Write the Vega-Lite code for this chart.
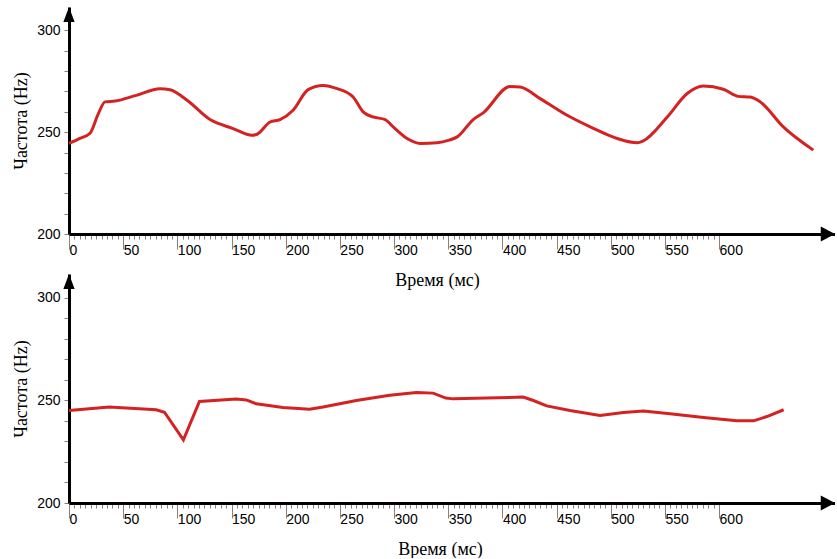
{
  "$schema": "https://vega.github.io/schema/vega-lite/v6.json",
  "padding": {"left": 12, "top": 7, "right": 0, "bottom": 0},
  "spacing": 40,
  "bounds": "flush",
  "config": {
    "view": {"stroke": null},
    "axis": {
      "grid": false,
      "domainColor": "#000000",
      "domainWidth": 3,
      "tickColor": "#8f7f76",
      "tickWidth": 1,
      "labelFont": "Liberation Sans",
      "labelFontSize": 14,
      "labelColor": "#000000",
      "titleFont": "Liberation Serif",
      "titleFontSize": 18,
      "titleFontWeight": "normal",
      "titleColor": "#000000",
      "labelOverlap": false,
      "labelFlush": false
    }
  },
  "datasets": {
    "top": [
      {"t":0,"f":244.5},{"t":10,"f":247},{"t":19.4,"f":249.5},{"t":27,"f":259},{"t":33.2,"f":264.9},{"t":42.5,"f":265.3},{"t":62,"f":268.1},{"t":84,"f":271.4},{"t":93.3,"f":270.9},{"t":109,"f":265.7},{"t":130.2,"f":256.2},{"t":151.4,"f":251.8},{"t":169,"f":248.5},{"t":173.6,"f":249},{"t":185.6,"f":255},{"t":194.8,"f":256.2},{"t":206.8,"f":260.8},{"t":220.7,"f":270.9},{"t":234.5,"f":273},{"t":247.5,"f":271.4},{"t":262.2,"f":267.3},{"t":271.5,"f":260},{"t":280.7,"f":257.5},{"t":291.8,"f":256.2},{"t":299.2,"f":252.6},{"t":312.1,"f":246.9},{"t":324.1,"f":244.5},{"t":339.8,"f":244.8},{"t":350.9,"f":246.1},{"t":358.3,"f":247.7},{"t":373.1,"f":256.2},{"t":382.3,"f":259.5},{"t":407.2,"f":272.5},{"t":416.4,"f":272.2},{"t":434.9,"f":266.5},{"t":459.8,"f":258.3},{"t":481.1,"f":252.6},{"t":506,"f":246.9},{"t":524.5,"f":244.8},{"t":530,"f":245.7},{"t":552.2,"f":257.5},{"t":570.6,"f":269},{"t":585.4,"f":272.7},{"t":603.9,"f":271.1},{"t":617.7,"f":267.6},{"t":628.8,"f":267.3},{"t":638,"f":264.9},{"t":659.3,"f":252.6},{"t":687,"f":241.2}
    ],
    "bottom": [
      {"t":0,"f":245},{"t":37.2,"f":246.7},{"t":80.4,"f":245.4},{"t":88.1,"f":244.2},{"t":105.6,"f":230.7},{"t":120.4,"f":249.4},{"t":154.3,"f":250.6},{"t":163.6,"f":250.2},{"t":172.8,"f":248.3},{"t":197.5,"f":246.5},{"t":222.1,"f":245.7},{"t":234.5,"f":246.7},{"t":265.2,"f":249.9},{"t":296,"f":252.5},{"t":320.7,"f":253.8},{"t":336.1,"f":253.5},{"t":347.8,"f":251.1},{"t":354.6,"f":250.7},{"t":385.4,"f":251.1},{"t":419.3,"f":251.6},{"t":428.6,"f":249.9},{"t":440.9,"f":247.3},{"t":462.4,"f":245},{"t":490.1,"f":242.6},{"t":511.7,"f":244.1},{"t":530.2,"f":244.8},{"t":554.8,"f":243.4},{"t":585.7,"f":241.6},{"t":616.4,"f":240.1},{"t":631.9,"f":240},{"t":644.2,"f":242.1},{"t":659.6,"f":245.4}
    ],
    "arrowUp": [{"t":0,"f":311.5}],
    "arrowRight": [{"t":707,"f":200}]
  },
  "vconcat": [
    {
      "width": 766,
      "height": 227,
      "encoding": {
        "x": {"field": "t", "type": "quantitative", "scale": {"domain": [0, 707], "nice": false, "zero": false}, "title": "Время (мс)",
          "axis": {
            "values": [0,5,10,15,20,25,30,35,40,45,50,55,60,65,70,75,80,85,90,95,100,105,110,115,120,125,130,135,140,145,150,155,160,165,170,175,180,185,190,195,200,205,210,215,220,225,230,235,240,245,250,255,260,265,270,275,280,285,290,295,300,305,310,315,320,325,330,335,340,345,350,355,360,365,370,375,380,385,390,395,400,405,410,415,420,425,430,435,440,445,450,455,460,465,470,475,480,485,490,495,500,505,510,515,520,525,530,535,540,545,550,555,560,565,570,575,580,585,590,595,600],
            "labelExpr": "datum.value % 50 === 0 ? datum.label : ''",
            "tickSize": {"condition": {"test": "datum.value % 50 === 0", "value": 15}, "value": 5},
            "labelAlign": "left",
            "labelBaseline": "top",
            "labelDx": 4,
            "labelPadding": -6,
            "titlePadding": 14,
            "titleX": 368
          }
        },
        "y": {"field": "f", "type": "quantitative", "scale": {"domain": [200, 311.5], "nice": false, "zero": false}, "title": "Частота (Hz)",
          "axis": {
            "values": [200,210,220,230,240,250,260,270,280,290,300],
            "labelExpr": "datum.value % 50 === 0 ? datum.label : ''",
            "tickSize": 5,
            "labelPadding": 4,
            "titlePadding": 6
          }
        }
      },
      "layer": [
        {"data": {"name": "top"}, "mark": {"type": "line", "interpolate": "monotone", "color": "#d42222", "strokeWidth": 3}},
        {"data": {"name": "arrowUp"}, "mark": {"type": "point", "shape": "M-0.75,2L0,0L0.75,2Z", "size": 225, "filled": true, "color": "#000000", "opacity": 1}},
        {"data": {"name": "arrowRight"}, "mark": {"type": "point", "shape": "M-1.9,-1L0,0L-1.9,1Z", "size": 225, "filled": true, "color": "#000000", "opacity": 1}}
      ]
    },
    {
      "width": 766,
      "height": 229,
      "encoding": {
        "x": {"field": "t", "type": "quantitative", "scale": {"domain": [0, 707], "nice": false, "zero": false}, "title": "Время (мс)",
          "axis": {
            "values": [0,5,10,15,20,25,30,35,40,45,50,55,60,65,70,75,80,85,90,95,100,105,110,115,120,125,130,135,140,145,150,155,160,165,170,175,180,185,190,195,200,205,210,215,220,225,230,235,240,245,250,255,260,265,270,275,280,285,290,295,300,305,310,315,320,325,330,335,340,345,350,355,360,365,370,375,380,385,390,395,400,405,410,415,420,425,430,435,440,445,450,455,460,465,470,475,480,485,490,495,500,505,510,515,520,525,530,535,540,545,550,555,560,565,570,575,580,585,590,595,600],
            "labelExpr": "datum.value % 50 === 0 ? datum.label : ''",
            "tickSize": {"condition": {"test": "datum.value % 50 === 0", "value": 15}, "value": 5},
            "labelAlign": "left",
            "labelBaseline": "top",
            "labelDx": 4,
            "labelPadding": -6,
            "titlePadding": 14,
            "titleX": 371
          }
        },
        "y": {"field": "f", "type": "quantitative", "scale": {"domain": [200, 311.5], "nice": false, "zero": false}, "title": "Частота (Hz)",
          "axis": {
            "values": [200,210,220,230,240,250,260,270,280,290,300],
            "labelExpr": "datum.value % 50 === 0 ? datum.label : ''",
            "tickSize": 5,
            "labelPadding": 4,
            "titlePadding": 6
          }
        }
      },
      "layer": [
        {"data": {"name": "bottom"}, "mark": {"type": "line", "interpolate": "linear", "color": "#d42222", "strokeWidth": 3}},
        {"data": {"name": "arrowUp"}, "mark": {"type": "point", "shape": "M-0.75,2L0,0L0.75,2Z", "size": 225, "filled": true, "color": "#000000", "opacity": 1}},
        {"data": {"name": "arrowRight"}, "mark": {"type": "point", "shape": "M-1.9,-1L0,0L-1.9,1Z", "size": 225, "filled": true, "color": "#000000", "opacity": 1}}
      ]
    }
  ]
}
